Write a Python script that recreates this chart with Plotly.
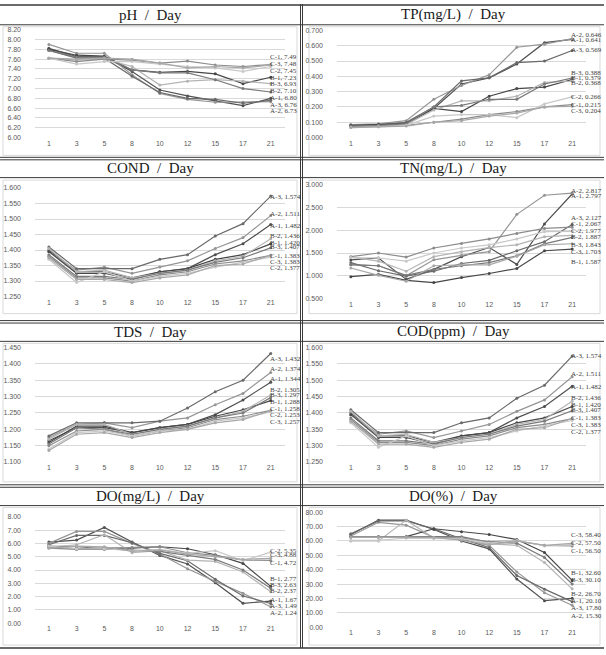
import plotly.graph_objects as go

W, H = 606, 655

days = ['1', '3', '5', '8', '10', '12', '15', '17', '21']
series = ['A-1', 'A-2', 'A-3', 'B-1', 'B-2', 'B-3', 'C-1', 'C-2', 'C-3']

ph = {
    'A-1': [7.82, 7.65, 7.65, 7.35, 6.97, 6.85, 6.75, 6.65, 6.80],
    'A-2': [7.90, 7.72, 7.72, 7.28, 6.90, 6.78, 6.72, 6.72, 6.73],
    'A-3': [7.78, 7.62, 7.62, 7.25, 6.92, 6.80, 6.78, 6.70, 6.76],
    'B-1': [7.80, 7.68, 7.66, 7.38, 7.33, 7.35, 7.30, 7.10, 7.23],
    'B-2': [7.62, 7.58, 7.60, 7.45, 7.07, 7.15, 7.18, 7.15, 7.10],
    'B-3': [7.78, 7.64, 7.64, 7.38, 7.32, 7.32, 7.18, 7.00, 6.93],
    'C-1': [7.62, 7.55, 7.60, 7.58, 7.52, 7.56, 7.48, 7.45, 7.49],
    'C-2': [7.62, 7.50, 7.55, 7.55, 7.50, 7.45, 7.42, 7.35, 7.45],
    'C-3': [7.62, 7.60, 7.62, 7.60, 7.52, 7.42, 7.45, 7.42, 7.48],
}
tp = {
    'A-1': [0.080, 0.085, 0.095, 0.19, 0.35, 0.39, 0.48, 0.62, 0.641],
    'A-2': [0.085, 0.090, 0.110, 0.25, 0.34, 0.41, 0.59, 0.61, 0.646],
    'A-3': [0.075, 0.085, 0.100, 0.20, 0.37, 0.39, 0.49, 0.50, 0.569],
    'B-1': [0.080, 0.085, 0.090, 0.19, 0.17, 0.27, 0.32, 0.33, 0.379],
    'B-2': [0.070, 0.075, 0.085, 0.18, 0.24, 0.24, 0.27, 0.36, 0.368],
    'B-3': [0.075, 0.080, 0.090, 0.20, 0.21, 0.25, 0.25, 0.35, 0.388],
    'C-1': [0.070, 0.075, 0.080, 0.10, 0.12, 0.15, 0.17, 0.20, 0.215],
    'C-2': [0.065, 0.070, 0.080, 0.14, 0.15, 0.15, 0.13, 0.22, 0.266],
    'C-3': [0.065, 0.070, 0.075, 0.10, 0.11, 0.14, 0.16, 0.20, 0.204],
}
cond = {
    'A-1': [1.400, 1.330, 1.330, 1.310, 1.330, 1.340, 1.385, 1.420, 1.482],
    'A-2': [1.395, 1.335, 1.345, 1.325, 1.345, 1.365, 1.405, 1.440, 1.511],
    'A-3': [1.410, 1.340, 1.340, 1.340, 1.370, 1.385, 1.445, 1.485, 1.574],
    'B-1': [1.395, 1.325, 1.325, 1.305, 1.330, 1.340, 1.370, 1.385, 1.420],
    'B-2': [1.405, 1.330, 1.335, 1.310, 1.325, 1.335, 1.365, 1.380, 1.436],
    'B-3': [1.385, 1.315, 1.315, 1.305, 1.325, 1.335, 1.360, 1.375, 1.407],
    'C-1': [1.380, 1.310, 1.310, 1.300, 1.320, 1.330, 1.355, 1.365, 1.383],
    'C-2': [1.370, 1.295, 1.330, 1.300, 1.315, 1.325, 1.345, 1.360, 1.377],
    'C-3': [1.375, 1.305, 1.305, 1.295, 1.310, 1.320, 1.350, 1.355, 1.383],
}
tn = {
    'A-1': [1.35, 1.39, 0.92, 1.14, 1.42, 1.62, 1.25, 2.14, 2.797],
    'A-2': [1.25, 1.22, 1.00, 1.35, 1.45, 1.53, 2.35, 2.77, 2.817],
    'A-3': [1.29, 1.11, 0.99, 1.10, 1.27, 1.34, 1.55, 1.75, 2.127],
    'B-1': [0.98, 1.03, 0.90, 0.85, 0.96, 1.05, 1.16, 1.55, 1.587],
    'B-2': [1.41, 1.32, 1.10, 1.42, 1.53, 1.62, 1.68, 1.86, 1.887],
    'B-3': [1.24, 1.22, 1.01, 1.14, 1.22, 1.29, 1.44, 1.70, 1.843],
    'C-1': [1.42, 1.50, 1.41, 1.61, 1.71, 1.81, 1.93, 2.04, 2.067],
    'C-2': [1.40, 1.39, 1.32, 1.50, 1.61, 1.68, 1.81, 1.97, 1.977],
    'C-3': [1.17, 1.01, 0.88, 1.22, 1.24, 1.24, 1.43, 1.68, 1.703],
}
tds = {
    'A-1': [1.165, 1.205, 1.205, 1.190, 1.205, 1.215, 1.245, 1.290, 1.344],
    'A-2': [1.175, 1.215, 1.220, 1.205, 1.225, 1.235, 1.275, 1.310, 1.374],
    'A-3': [1.180, 1.220, 1.220, 1.220, 1.225, 1.265, 1.315, 1.350, 1.432],
    'B-1': [1.160, 1.210, 1.210, 1.190, 1.205, 1.215, 1.240, 1.260, 1.288],
    'B-2': [1.170, 1.215, 1.215, 1.185, 1.200, 1.210, 1.235, 1.255, 1.305],
    'B-3': [1.155, 1.205, 1.200, 1.185, 1.200, 1.210, 1.235, 1.250, 1.297],
    'C-1': [1.150, 1.195, 1.200, 1.180, 1.195, 1.205, 1.230, 1.240, 1.258],
    'C-2': [1.140, 1.190, 1.195, 1.180, 1.195, 1.200, 1.225, 1.235, 1.253],
    'C-3': [1.135, 1.185, 1.190, 1.175, 1.190, 1.200, 1.220, 1.230, 1.257],
}
cod = {
    'A-1': [1.400, 1.330, 1.330, 1.310, 1.330, 1.340, 1.385, 1.420, 1.482],
    'A-2': [1.395, 1.335, 1.345, 1.325, 1.345, 1.365, 1.405, 1.440, 1.511],
    'A-3': [1.410, 1.340, 1.340, 1.340, 1.370, 1.385, 1.445, 1.485, 1.574],
    'B-1': [1.395, 1.325, 1.325, 1.305, 1.330, 1.340, 1.370, 1.385, 1.420],
    'B-2': [1.405, 1.330, 1.335, 1.310, 1.325, 1.335, 1.365, 1.380, 1.436],
    'B-3': [1.385, 1.315, 1.315, 1.305, 1.325, 1.335, 1.360, 1.375, 1.407],
    'C-1': [1.380, 1.310, 1.310, 1.300, 1.320, 1.330, 1.355, 1.365, 1.383],
    'C-2': [1.370, 1.295, 1.330, 1.300, 1.315, 1.325, 1.345, 1.360, 1.377],
    'C-3': [1.375, 1.305, 1.305, 1.295, 1.310, 1.320, 1.350, 1.355, 1.383],
}
do_mg = {
    'A-1': [6.10, 6.25, 7.20, 6.10, 5.10, 4.45, 3.05, 1.50, 1.67],
    'A-2': [6.00, 6.90, 6.90, 6.00, 5.20, 4.10, 3.15, 2.25, 1.24],
    'A-3': [5.90, 6.60, 6.60, 6.05, 5.25, 4.70, 3.30, 2.05, 1.49],
    'B-1': [5.75, 5.60, 5.65, 5.65, 5.75, 5.60, 5.15, 4.50, 2.77],
    'B-2': [5.70, 5.90, 6.65, 5.30, 5.45, 4.75, 4.65, 3.85, 2.37],
    'B-3': [5.80, 5.75, 5.60, 5.50, 5.40, 5.10, 4.80, 4.00, 2.63],
    'C-1': [5.65, 5.55, 5.55, 5.70, 5.75, 5.30, 5.10, 4.75, 4.72],
    'C-2': [5.80, 5.60, 5.60, 5.45, 5.55, 5.25, 5.45, 4.70, 5.35],
    'C-3': [5.65, 5.80, 5.75, 5.40, 5.50, 5.20, 5.00, 4.80, 4.88],
}
do_pct = {
    'A-1': [64.5, 74.5, 74.5, 68.0, 60.0, 54.5, 33.5, 18.5, 20.1],
    'A-2': [63.5, 73.0, 71.0, 62.5, 61.0, 57.0, 38.5, 24.0, 15.3],
    'A-3': [65.0, 74.0, 74.0, 68.5, 61.5, 55.5, 36.0, 26.5, 17.8],
    'B-1': [63.0, 63.0, 63.0, 68.5, 66.5, 64.5, 61.0, 52.0, 32.6],
    'B-2': [60.0, 60.0, 74.5, 62.0, 62.5, 58.0, 57.0, 45.0, 26.7],
    'B-3': [63.0, 63.0, 63.0, 62.5, 63.0, 59.0, 58.5, 48.5, 30.1],
    'C-1': [63.0, 63.0, 63.0, 62.0, 62.0, 59.5, 60.0, 57.0, 56.5],
    'C-2': [60.5, 60.5, 62.0, 62.0, 61.5, 58.5, 60.5, 56.5, 57.5],
    'C-3': [62.5, 62.5, 62.5, 62.5, 60.5, 57.5, 60.0, 57.0, 58.4],
}

# label placement (data units) for end-of-line labels, top to bottom
ph_lab = {'C-1': 7.635, 'C-3': 7.494, 'C-2': 7.358, 'B-1': 7.205, 'B-3': 7.090,
          'B-2': 6.943, 'A-1': 6.808, 'A-3': 6.672, 'A-2': 6.539}
tp_lab = {'A-2': 0.668, 'A-1': 0.640, 'A-3': 0.571, 'B-3': 0.420, 'B-1': 0.388,
          'B-2': 0.356, 'C-2': 0.263, 'C-1': 0.215, 'C-3': 0.176}
cond_lab = {'A-3': 1.572, 'A-2': 1.517, 'A-1': 1.477, 'B-2': 1.445, 'B-1': 1.424,
            'B-3': 1.409, 'C-1': 1.382, 'C-3': 1.362, 'C-2': 1.342}
tn_lab = {'A-2': 2.863, 'A-1': 2.748, 'A-3': 2.276, 'C-1': 2.146, 'C-2': 1.993,
          'B-2': 1.841, 'B-3': 1.667, 'C-3': 1.522, 'B-1': 1.304}
tds_lab = {'A-3': 1.4146, 'A-2': 1.385, 'A-1': 1.354, 'B-2': 1.320, 'B-3': 1.304,
           'B-1': 1.284, 'C-1': 1.261, 'C-2': 1.243, 'C-3': 1.223}
cod_lab = {'A-3': 1.575, 'A-2': 1.519, 'A-1': 1.479, 'B-2': 1.447, 'B-1': 1.425,
           'B-3': 1.410, 'C-1': 1.384, 'C-3': 1.363, 'C-2': 1.343}
domg_lab = {'C-2': 5.445, 'C-3': 5.125, 'C-1': 4.509, 'B-1': 3.320, 'B-3': 2.845,
            'B-2': 2.399, 'A-1': 1.731, 'A-3': 1.285, 'A-2': 0.743}
dopct_lab = {'C-3': 63.97, 'C-2': 58.47, 'C-1': 53.17, 'B-1': 37.83, 'B-3': 32.53,
             'B-2': 22.90, 'A-1': 18.09, 'A-3': 13.07, 'A-2': 7.77}

colors = {
    'A-1': '#505050', 'A-2': '#969696', 'A-3': '#6a6a6a',
    'B-1': '#474747', 'B-2': '#b4b4b4', 'B-3': '#7a7a7a',
    'C-1': '#8c8c8c', 'C-2': '#c8c8c8', 'C-3': '#a8a8a8',
}

# panels: title, data, labels, ymin, ymax, ystep, decimals, column, y-domain in px (top,bottom)
panels = [
    ('pH \u00a0/\u00a0 Day', ph, ph_lab, 6.0, 8.2, 0.2, 2, 0, (26, 135)),
    ('TP(mg/L) \u00a0/\u00a0 Day', tp, tp_lab, 0.0, 0.7, 0.1, 3, 1, (26.7, 135)),
    ('COND \u00a0/\u00a0 Day', cond, cond_lab, 1.25, 1.6, 0.05, 3, 0, (186, 295.7)),
    ('TN(mg/L) \u00a0/\u00a0 Day', tn, tn_lab, 0.5, 3.0, 0.5, 3, 1, (182.7, 297.7)),
    ('TDS \u00a0/\u00a0 Day', tds, tds_lab, 1.10, 1.45, 0.05, 3, 0, (347.3, 463)),
    ('COD(ppm) \u00a0/\u00a0 Day', cod, cod_lab, 1.25, 1.6, 0.05, 3, 1, (347.3, 463)),
    ('DO(mg/L) \u00a0/\u00a0 Day', do_mg, domg_lab, 0.0, 8.0, 1.0, 2, 0, (518.3, 626)),
    ('DO(%) \u00a0/\u00a0 Day', do_pct, dopct_lab, 0.0, 80.0, 10.0, 2, 1, (513.7, 630)),
]
title_y = [11, 11, 166, 166, 331.5, 331.5, 497.5, 497.5]

col_x = [(35, 284.6), (337, 586)]
col_center = [150.5, 453]

def px(x):
    return x / W

def py(y):
    return 1 - y / H

fig = go.Figure()
layout = dict(
    width=W, height=H, margin=dict(l=0, r=0, t=0, b=0),
    paper_bgcolor='white', plot_bgcolor='white', showlegend=False,
)
annotations = []
shapes = []

for i, (title, data, lab, lo, hi, step, dec, col, (ytop, ybot)) in enumerate(panels):
    n = i + 1
    xa = 'x' if n == 1 else f'x{n}'
    ya = 'y' if n == 1 else f'y{n}'
    nt = int(round((hi - lo) / step))
    tickvals = [round(lo + k * step, 6) for k in range(nt + 1)]
    ticktext = [f'{v:.{dec}f}' for v in tickvals]
    layout['xaxis' if n == 1 else f'xaxis{n}'] = dict(
        domain=[px(col_x[col][0]), px(col_x[col][1])],
        anchor=ya, type='category', range=[-0.5, 8.5],
        showgrid=False, zeroline=False, showline=False, ticks='',
        tickfont=dict(family='Liberation Sans', size=7, color='#595959'),
        ticklabelstandoff=0, fixedrange=True,
    )
    layout['yaxis' if n == 1 else f'yaxis{n}'] = dict(
        domain=[py(ybot), py(ytop)], anchor=xa,
        range=[lo - (hi - lo) * 1e-4, hi + (hi - lo) * 1e-4],
        tickvals=tickvals, ticktext=ticktext,
        showgrid=True, gridcolor='#d9d9d9', gridwidth=1,
        zeroline=False, showline=False, ticks='',
        tickfont=dict(family='Liberation Sans', size=7, color='#595959'),
        ticklabelstandoff=13, fixedrange=True,
    )
    last_idx = len(days) - 1
    for s in series:
        fig.add_trace(go.Scatter(
            x=days, y=data[s], mode='lines+markers', name=s,
            xaxis=xa, yaxis=ya,
            line=dict(color=colors[s], width=1.2),
            marker=dict(color=colors[s], size=3),
        ))
    for s, yv in lab.items():
        val = data[s][-1]
        annotations.append(dict(
            x=last_idx, y=yv, xref=xa, yref=ya, text=f'{s}, {val:.{dec}f}',
            showarrow=False, xanchor='left', yanchor='middle', xshift=-3,
            font=dict(family='Liberation Serif', size=7, color='#404040'),
        ))
    annotations.append(dict(
        x=px(col_center[col]), y=py(title_y[i]), xref='paper', yref='paper',
        text=title, showarrow=False, xanchor='center', yanchor='middle',
        font=dict(family='Liberation Serif', size=15, color='#1a1a1a'),
    ))

# inner chart boxes
box_x = [(3, 297), (309, 600)]
box_y = [(23, 153), (178, 313), (343, 483), (509, 648)]
for (y0, y1) in box_y:
    for (x0, x1) in box_x:
        shapes.append(dict(type='rect', xref='paper', yref='paper',
                           x0=px(x0), x1=px(x1), y0=py(y1), y1=py(y0),
                           line=dict(color='#d9d9d9', width=1), layer='below'))

# table rules
hlines = [(1, 1.5), (21, 1), (155, 1), (157.5, 1), (175.5, 1), (320, 1), (322.5, 1),
          (341, 1), (486, 1), (488.5, 1), (507, 1), (651, 1.5)]
for (yv, wv) in hlines:
    shapes.append(dict(type='line', xref='paper', yref='paper',
                       x0=0, x1=px(604), y0=py(yv), y1=py(yv),
                       line=dict(color='#3a3a3a', width=wv)))
for xv in (300.5, 302.5):
    shapes.append(dict(type='line', xref='paper', yref='paper',
                       x0=px(xv), x1=px(xv), y0=py(0), y1=py(651),
                       line=dict(color='#3a3a3a', width=1)))

layout['annotations'] = annotations
layout['shapes'] = shapes
fig.update_layout(**layout)
fig.write_html('out.html')
